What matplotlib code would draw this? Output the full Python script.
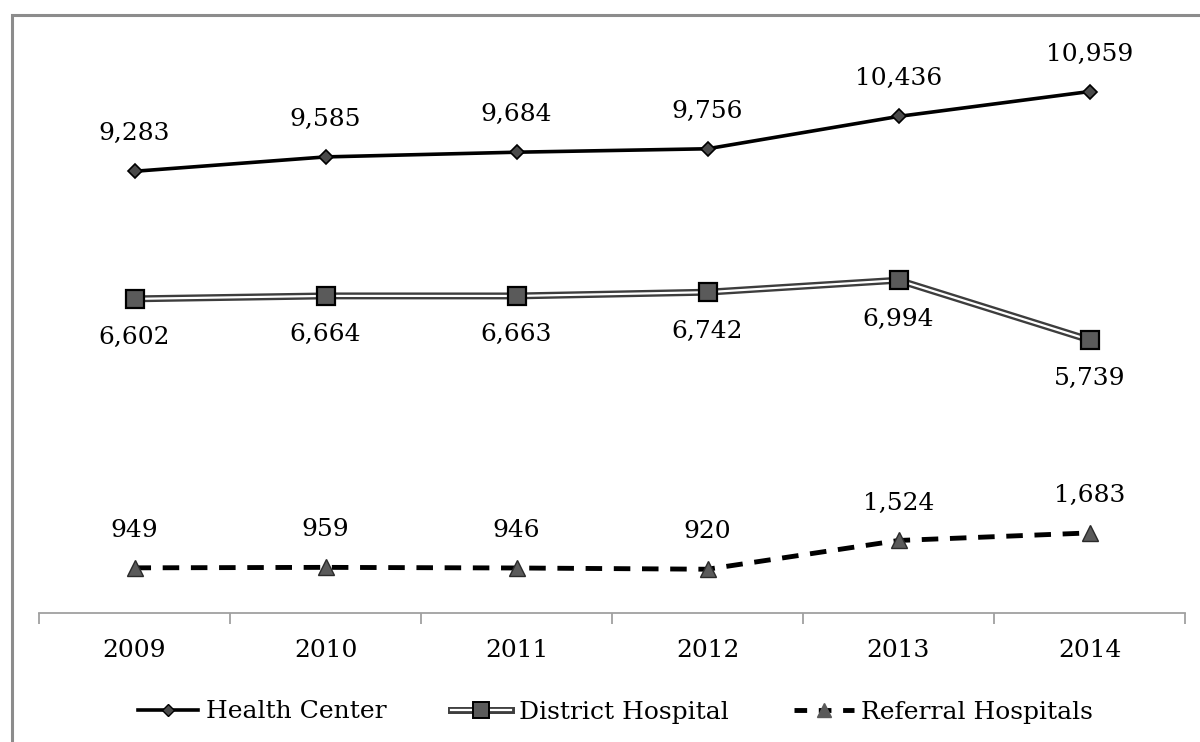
import matplotlib.pyplot as plt
from matplotlib.lines import Line2D
from matplotlib.patches import Rectangle
from matplotlib.legend_handler import HandlerTuple

years = ["2009", "2010", "2011", "2012", "2013", "2014"]
health_center = [9283, 9585, 9684, 9756, 10436, 10959]
district_hospital = [6602, 6664, 6663, 6742, 6994, 5739]
referral_hospitals = [949, 959, 946, 920, 1524, 1683]

plt.rcParams["font.family"] = ["DejaVu Serif"]

fig = plt.figure(figsize=(12, 7.42), dpi=100)
ax = fig.add_axes([39 / 1200, 1 - 613 / 742, (1185 - 39) / 1200, (613 - 42) / 742])

# outer chart frame (cropped on the right and bottom)
fig.patches.append(Rectangle((12 / 1200, -0.2), 1.2, 1 - 15 / 742 + 0.2,
                             transform=fig.transFigure, fill=False,
                             edgecolor="#8c8c8c", linewidth=2.2))

x = list(range(len(years)))

# Health Center
ax.plot(x, health_center, color="black", lw=2.6, marker="D", ms=7,
        mfc="#4a4a4a", mec="black", mew=1.2, zorder=3)

# District Hospital (double line)
ax.plot(x, district_hospital, color="#3d3d3d", lw=5, solid_capstyle="butt", zorder=3)
ax.plot(x, district_hospital, color="white", lw=1.6, zorder=4)
ax.plot(x, district_hospital, ls="none", marker="s", ms=13,
        mfc="#5a5a5a", mec="black", mew=1.6, zorder=5)

# Referral Hospitals
ax.plot(x, referral_hospitals, color="black", lw=3.5, ls=(0, (3.4, 2.4)), zorder=3)
ax.plot(x, referral_hospitals, ls="none", marker="^", ms=12,
        mfc="#5a5a5a", mec="#2a2a2a", mew=1.0, zorder=4)

for i in x:
    ax.annotate(f"{health_center[i]:,}", (i, health_center[i]), xytext=(0, 27),
                textcoords="offset points", ha="center", va="center", fontsize=18)
    ax.annotate(f"{district_hospital[i]:,}", (i, district_hospital[i]), xytext=(0, -28),
                textcoords="offset points", ha="center", va="center", fontsize=18)
    ax.annotate(f"{referral_hospitals[i]:,}", (i, referral_hospitals[i]), xytext=(0, 27),
                textcoords="offset points", ha="center", va="center", fontsize=18)

ax.set_xlim(-0.5, len(years) - 0.5)
ax.set_ylim(0, 12000)
ax.set_xticks(x)
ax.set_xticklabels(years, fontsize=18)
ax.set_xticks([i - 0.5 for i in range(len(years) + 1)], minor=True)
ax.tick_params(axis="x", which="major", length=0, pad=19)
ax.tick_params(axis="x", which="minor", length=8, width=1.3, color="#a0a0a0")
ax.set_yticks([])
for s in ["top", "right", "left"]:
    ax.spines[s].set_visible(False)
ax.spines["bottom"].set_color("#a0a0a0")
ax.spines["bottom"].set_linewidth(1.3)

h1 = Line2D([], [], color="black", lw=2.6, marker="D", ms=6, mfc="#4a4a4a", mec="black")
h2 = (Line2D([], [], color="#3d3d3d", lw=5),
      Line2D([], [], color="white", lw=1.6),
      Line2D([], [], ls="none", marker="s", ms=11, mfc="#5a5a5a", mec="black", mew=1.4))
h3 = (Line2D([], [], color="black", lw=3.5, ls=(0, (2.6, 2.4))),
      Line2D([], [], ls="none", marker="^", ms=10, mfc="#5a5a5a", mec="#5a5a5a"))
fig.legend([h1, h2, h3], ["Health Center", "District Hospital", "Referral Hospitals"],
           handler_map={tuple: HandlerTuple(ndivide=1)}, loc="center",
           bbox_to_anchor=(0.513, 1 - 712 / 742), ncol=3, frameon=False, fontsize=18,
           handlelength=2.4, handletextpad=0.3, columnspacing=2.6)

fig.savefig("out.png", dpi=100)
